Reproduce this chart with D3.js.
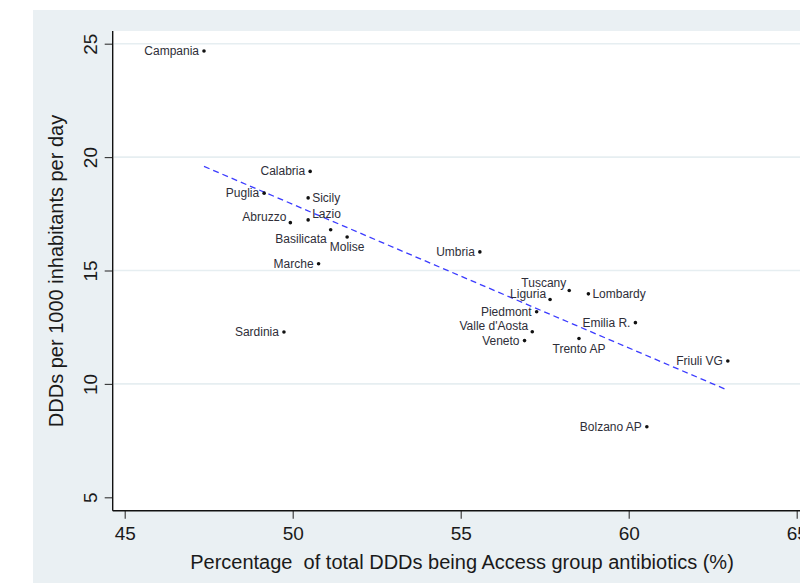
<!DOCTYPE html>
<html>
<head>
<meta charset="utf-8">
<script src="https://cdn.jsdelivr.net/npm/d3@7"></script>
<style>
  body { margin: 0; background: #fff; }
  svg { display: block; font-family: "Liberation Sans", Arial, sans-serif; }
</style>
</head>
<body>
<div id="chart"></div>
<script>
// Data
var regions = ["Campania", "Calabria", "Puglia", "Sicily", "Abruzzo", "Lazio", "Basilicata",
    "Molise", "Marche", "Sardinia", "Umbria", "Tuscany", "Lombardy", "Liguria", "Piedmont",
    "Valle d'Aosta", "Veneto", "Emilia R.", "Trento AP", "Friuli VG", "Bolzano AP"];
var accessPct = [47.36, 50.52, 49.15, 50.46, 49.93, 50.46, 51.13,
    51.62, 50.77, 49.74, 55.57, 58.23, 58.80, 57.66, 57.26,
    57.13, 56.90, 60.20, 58.52, 62.95, 60.54];
var ddds = [24.68, 19.37, 18.41, 18.20, 17.11, 17.23, 16.80,
    16.48, 15.30, 12.29, 15.82, 14.12, 13.97, 13.72, 13.18,
    12.30, 11.91, 12.70, 12.00, 11.01, 8.11];
// marker label clock position (Stata style)
var labelPos = [9, 9, 9, 3, 10, 2, 7,
    6, 9, 9, 9, 11, 3, 10, 9,
    10, 9, 9, 6, 9, 9];

// fitted line endpoints
var fitX = [47.36, 62.95];
var fitY = [19.59, 9.72];

var xTicks = [45, 50, 55, 60, 65];
var yTicks = [5, 10, 15, 20, 25];

var svgWidth = 800;
var svgHeight = 583;

var margin = { top: 31, left: 112.7, bottom: 72.3 };

var svg = d3.select("#chart")
    .append("svg")
    .attr("width", svgWidth)
    .attr("height", svgHeight);

// outer (graph region) background
svg.append("rect")
    .attr("x", 33).attr("y", 10)
    .attr("width", svgWidth - 33).attr("height", svgHeight - 10)
    .attr("fill", "#eaf0f3");

// plot region
svg.append("rect")
    .attr("x", margin.left).attr("y", margin.top)
    .attr("width", svgWidth - margin.left).attr("height", svgHeight - margin.bottom - margin.top)
    .attr("fill", "#ffffff");

// scales: 45 -> 124.7, 65 -> 796.7 ; 25 -> 43.7, 5 -> 497.3
var xScale = d3.scaleLinear().domain([45, 65]).range([124.7, 796.7]);
var yScale = d3.scaleLinear().domain([5, 25]).range([497.3, 43.7]);

var plotBottom = svgHeight - margin.bottom;

// gridlines
svg.append("g")
    .selectAll("line")
    .data(yTicks.filter(d => d > 5))
    .enter()
    .append("line")
    .attr("x1", margin.left + 1)
    .attr("x2", svgWidth)
    .attr("y1", d => yScale(d))
    .attr("y2", d => yScale(d))
    .attr("stroke", "#e6eef1")
    .attr("stroke-width", 1.6);

// axes
var leftAxis = d3.axisLeft(yScale).tickValues(yTicks).tickSize(8).tickPadding(6);
var bottomAxis = d3.axisBottom(xScale).tickValues(xTicks).tickSize(8).tickPadding(8);

var yAxis = svg.append("g")
    .attr("transform", `translate(${margin.left}, 0)`)
    .call(leftAxis);
yAxis.select(".domain").remove();
yAxis.selectAll("line").attr("stroke", "#333").attr("stroke-width", 1.1);
yAxis.selectAll("text")
    .attr("font-size", 19)
    .attr("fill", "#1a1a1a")
    .attr("text-anchor", "middle")
    .attr("dy", null)
    .attr("x", 0)
    .attr("transform", "translate(-22.5, 0) rotate(-90)")
    .attr("dominant-baseline", "central");

var xAxis = svg.append("g")
    .attr("transform", `translate(0, ${plotBottom})`)
    .call(bottomAxis);
xAxis.select(".domain").remove();
xAxis.selectAll("line").attr("stroke", "#333").attr("stroke-width", 1.1);
xAxis.selectAll("text")
    .attr("font-size", 19)
    .attr("fill", "#1a1a1a")
    .attr("dy", "0.71em");

// axis lines
svg.append("line")
    .attr("x1", margin.left).attr("x2", margin.left)
    .attr("y1", margin.top).attr("y2", plotBottom)
    .attr("stroke", "#111").attr("stroke-width", 1.4);
svg.append("line")
    .attr("x1", margin.left).attr("x2", svgWidth)
    .attr("y1", plotBottom).attr("y2", plotBottom)
    .attr("stroke", "#111").attr("stroke-width", 1.4);

// fitted line
svg.append("line")
    .attr("x1", xScale(fitX[0])).attr("y1", yScale(fitY[0]))
    .attr("x2", xScale(fitX[1])).attr("y2", yScale(fitY[1]))
    .attr("stroke", "#3b3bff")
    .attr("stroke-width", 1.3)
    .attr("stroke-dasharray", "6,4");

// points
var data = regions.map(function (r, i) {
    return { region: r, x: accessPct[i], y: ddds[i], pos: labelPos[i] };
});

var pointsGroup = svg.selectAll(".pt")
    .data(data)
    .enter()
    .append("g")
    .attr("class", "pt")
    .attr("transform", d => `translate(${xScale(d.x)}, ${yScale(d.y)})`);

pointsGroup.append("circle")
    .attr("r", 1.8)
    .attr("fill", "#111");

// label offsets by clock position
var posStyle = {
    9: { anchor: "end", dx: -5, dy: 0 },
    3: { anchor: "start", dx: 4, dy: 0 },
    6: { anchor: "middle", dx: 0, dy: 10.5 },
    10: { anchor: "end", dx: -4, dy: -5.5 },
    11: { anchor: "end", dx: -3, dy: -7.5 },
    2: { anchor: "start", dx: 4, dy: -6 },
    7: { anchor: "end", dx: -4, dy: 9 }
};

pointsGroup.append("text")
    .attr("x", d => posStyle[d.pos].dx)
    .attr("y", d => posStyle[d.pos].dy)
    .attr("text-anchor", d => posStyle[d.pos].anchor)
    .attr("dominant-baseline", "central")
    .attr("font-size", 12)
    .attr("fill", "#2e2e38")
    .text(d => d.region);

// axis titles
svg.append("text")
    .attr("x", 462)
    .attr("y", 562)
    .attr("text-anchor", "middle")
    .attr("dominant-baseline", "central")
    .attr("font-size", 20)
    .attr("fill", "#1a1a1a")
    .attr("xml:space", "preserve")
    .style("white-space", "pre")
    .text("Percentage  of total DDDs being Access group antibiotics (%)");

svg.append("text")
    .attr("transform", "translate(56, 271) rotate(-90)")
    .attr("text-anchor", "middle")
    .attr("dominant-baseline", "central")
    .attr("font-size", 20)
    .attr("fill", "#1a1a1a")
    .text("DDDs per 1000 inhabitants per day");
</script>
</body>
</html>
